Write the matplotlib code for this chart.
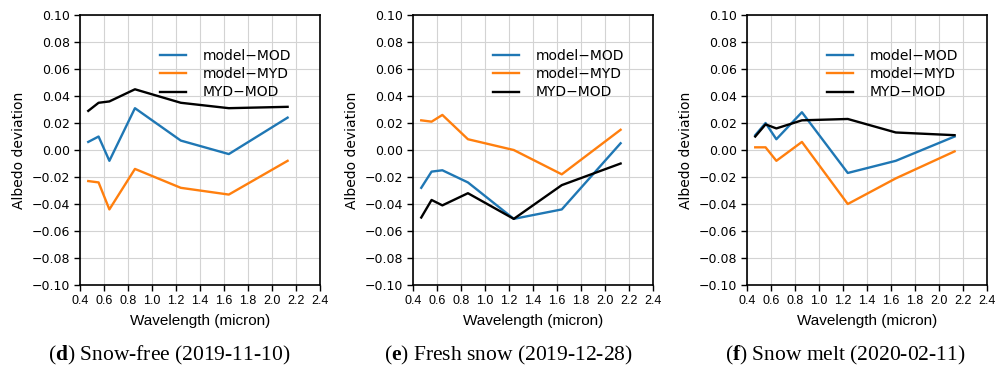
import numpy as np
import matplotlib
matplotlib.use("Agg")
import matplotlib.pyplot as plt

# MODIS band centre wavelengths (micron)
wavelength = [0.469, 0.555, 0.645, 0.858, 1.24, 1.64, 2.13]

# (d) snow-free
d_model_mod = [0.006, 0.010, -0.008, 0.031, 0.007, -0.003, 0.024]
d_model_myd = [-0.023, -0.024, -0.044, -0.014, -0.028, -0.033, -0.008]
d_myd_mod = [0.029, 0.035, 0.036, 0.045, 0.035, 0.031, 0.032]

# (e) fresh snow
e_model_mod = [-0.028, -0.016, -0.015, -0.024, -0.051, -0.044, 0.005]
e_model_myd = [0.022, 0.021, 0.026, 0.008, 0.000, -0.018, 0.015]
e_myd_mod = [-0.050, -0.037, -0.041, -0.032, -0.051, -0.026, -0.010]

# (f) snow melt
f_model_mod = [0.011, 0.020, 0.008, 0.028, -0.017, -0.008, 0.010]
f_model_myd = [0.002, 0.002, -0.008, 0.006, -0.040, -0.021, -0.001]
f_myd_mod = [0.010, 0.019, 0.016, 0.022, 0.023, 0.013, 0.011]

letters = ["d", "e", "f"]
captions = ["Snow-free (2019-11-10)", "Fresh snow (2019-12-28)", "Snow melt (2020-02-11)"]
panels = [
    (d_model_mod, d_model_myd, d_myd_mod),
    (e_model_mod, e_model_myd, e_myd_mod),
    (f_model_mod, f_model_myd, f_myd_mod),
]
series_labels = ["model\u2212MOD", "model\u2212MYD", "MYD\u2212MOD"]
colors = ["#1f77b4", "#ff7f0e", "black"]

xticks = np.arange(0.4, 2.41, 0.2)
yticks = np.arange(-0.10, 0.101, 0.02)

plt.rcParams["mathtext.fontset"] = "custom"
plt.rcParams["mathtext.rm"] = "Liberation Serif"
plt.rcParams["mathtext.bf"] = "Liberation Serif:bold"

fig = plt.figure(figsize=(10.06, 3.76), dpi=100)
lefts = [0.0795, 0.4105, 0.7425]
cap_x = [0.168, 0.505, 0.84]

for i, (vals, left) in enumerate(zip(panels, lefts)):
    ax = fig.add_axes([left, 0.242, 0.2386, 0.718])
    for v, lab, c in zip(vals, series_labels, colors):
        ax.plot(wavelength, v, color=c, lw=1.7, label=lab)
    ax.set_xlim(0.4, 2.4)
    ax.set_ylim(-0.10, 0.10)
    ax.set_xticks(xticks)
    ax.set_yticks(yticks)
    ax.set_xticklabels([f"{t:.1f}" for t in xticks],
                       family="Liberation Sans", fontsize=9)
    ax.set_yticklabels([f"{t:.2f}".replace("-", "\u2212") for t in yticks],
                       fontsize=9)
    ax.grid(True, color="#d3d3d3", lw=0.8)
    ax.set_axisbelow(True)
    ax.tick_params(direction="out", length=4, width=1, pad=3)
    for s in ax.spines.values():
        s.set_linewidth(1.2)
    ax.set_xlabel("Wavelength (micron)", family="Liberation Sans", fontsize=11,
                  labelpad=5)
    ax.set_ylabel("Albedo deviation", fontsize=10)
    ax.legend(loc="upper left", bbox_to_anchor=(0.28, 0.92), frameon=False,
              fontsize=10, handlelength=1.9, handletextpad=1.2, labelspacing=0.3)
    fig.text(cap_x[i], 0.055, rf"$(\mathbf{{{letters[i]}}})$ " + captions[i],
             ha="center", va="center", family="Liberation Serif", fontsize=15.5)

fig.savefig("out.png", dpi=100)
